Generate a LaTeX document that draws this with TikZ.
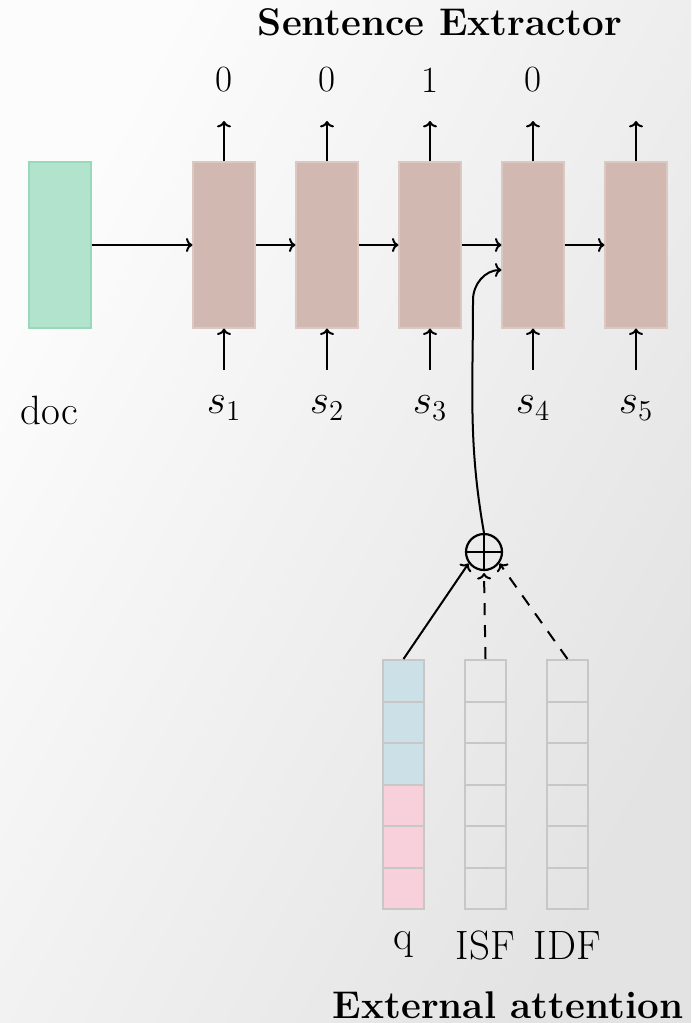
\documentclass[tikz,border=0pt]{standalone}
\usetikzlibrary{arrows.meta}
\definecolor{docg}{HTML}{B2E3CC}
\definecolor{docgd}{HTML}{9AD8BB}
\definecolor{brn}{HTML}{D1B8B0}
\definecolor{brnd}{HTML}{DCC8C2}
\definecolor{qblue}{HTML}{CCE0E8}
\definecolor{qpink}{HTML}{F8D0DC}
\begin{document}
\begin{tikzpicture}[x=0.5pt,y=-0.5pt,
  lbl/.style={font=\fontsize{20.5}{24}\selectfont, inner sep=0},
  dig/.style={font=\fontsize{18.5}{22}\selectfont, inner sep=0},
  ttl/.style={font=\fontsize{19.3}{23}\selectfont\bfseries, inner sep=0},
  arr/.style={-{To[length=3.2pt,width=7pt]}, line width=1pt},
  docbox/.style={minimum width=31pt, minimum height=83pt, fill=docg, draw=docgd, line width=0.6pt, inner sep=0},
  sbox/.style={minimum width=31pt, minimum height=83pt, fill=brn, draw=brnd, line width=0.6pt, inner sep=0},
  cell/.style={minimum width=20.5pt, minimum height=20.75pt, draw=black!22, line width=1pt, inner sep=0}]
\useasboundingbox (0,0) rectangle (691,1023);
\shade[top color=black!1, bottom color=black!11, shading angle=62] (0,0) rectangle (691,1023);

\node[ttl] (title) at (440,22) {Sentence Extractor};
\node[docbox] (doc) at (60,245) {};
\node[lbl] (doclbl) at (49,410) {doc};

\foreach \i/\x/\o in {1/224/0,2/327/0,3/430/1,4/533/0,5/636/{}} {
  \node[sbox] (b\i) at (\x,245) {};
  \coordinate (o\i) at (\x,121);
  \coordinate (in\i) at (\x,370);
  \draw[arr] (b\i.north) -- (o\i);
  \draw[arr] (in\i) -- (b\i.south);
  \node[dig] (y\i) at (\x,80) {\o};
  \node[lbl] (s\i) at (\x,408) {$s_{\i}$};
}
\draw[arr] (doc.east) -- (b1.west);
\draw[arr] (b1.east) -- (b2.west);
\draw[arr] (b2.east) -- (b3.west);
\draw[arr] (b3.east) -- (b4.west);
\draw[arr] (b4.east) -- (b5.west);

\node[circle, draw, line width=1.1pt, minimum size=18pt, inner sep=0] (plus) at (484,552) {};
\draw[line width=1.1pt] (plus.north) -- (plus.south);
\draw[line width=1.1pt] (plus.west) -- (plus.east);
\coordinate (bend) at (473,300);
\draw[arr] (plus.north) to[out=100,in=-90] (bend) to[out=90,in=180] ([yshift=-12.5pt]b4.west);

\foreach \i in {1,...,6} {
  \pgfmathsetmacro{\yy}{639.25+41.5*\i}
  \ifnum\i<4
    \node[cell, fill=qblue] (q\i) at (403.5,\yy) {};
  \else
    \node[cell, fill=qpink] (q\i) at (403.5,\yy) {};
  \fi
  \node[cell] (isf\i) at (485.5,\yy) {};
  \node[cell] (idf\i) at (567.5,\yy) {};
}
\draw[arr] (q1.north) -- ([shift={(-1pt,1pt)}]plus.south west);
\draw[arr, dash pattern=on 6pt off 5pt] (isf1.north) -- ([yshift=-1pt]plus.south);
\draw[arr, dash pattern=on 6pt off 5pt] (idf1.north) -- ([shift={(1pt,1pt)}]plus.south east);

\node[lbl] (ql) at (403.5,945) {q};
\node[lbl] (isfl) at (485.5,945) {ISF};
\node[lbl] (idfl) at (567.5,945) {IDF};
\node[ttl] (ext) at (508,1005) {External attention};
\end{tikzpicture}
\end{document}
